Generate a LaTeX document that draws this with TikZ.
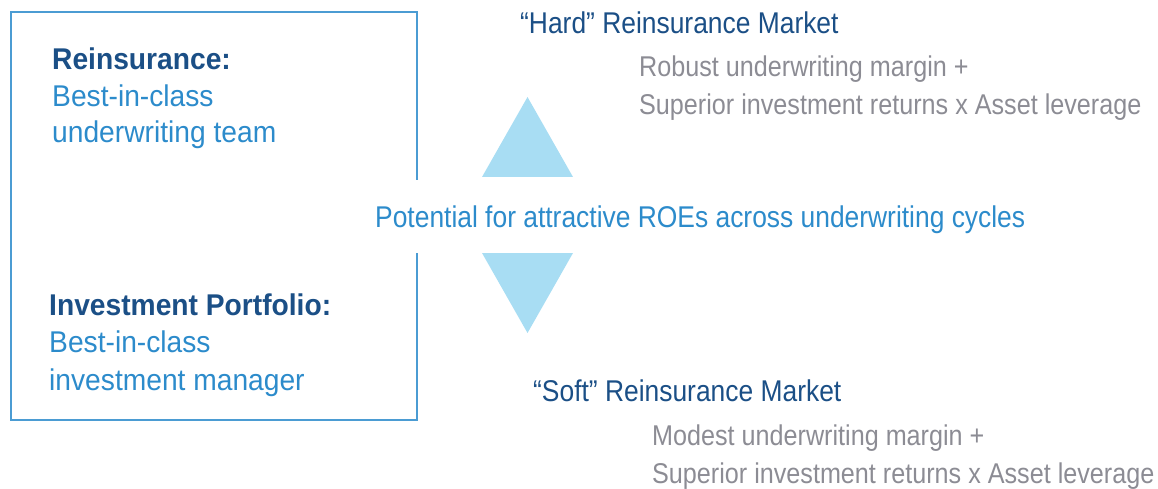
\documentclass[tikz,border=0pt]{standalone}
\usepackage{fontspec}
\setmainfont{Liberation Sans}[FakeStretch=0.88]
\newfontfamily\boxfont{Liberation Sans}[FakeStretch=0.94]
\definecolor{navy}{HTML}{1B4F86}
\definecolor{midblue}{HTML}{2C8BCB}
\definecolor{greytxt}{HTML}{8C8C94}
\definecolor{boxline}{HTML}{4B9CD3}
\definecolor{trifill}{HTML}{A8DDF3}
\tikzset{
  base/.style={anchor=base west, inner sep=0pt, font=\fontsize{30}{36}\selectfont},
  headtxt/.style={base, text=navy, font=\fontsize{30}{36}\selectfont\boxfont\bfseries},
  boxtxt/.style={base, text=midblue, font=\fontsize{30}{36}\selectfont\boxfont},
  bluetxt/.style={base, text=midblue},
  markettxt/.style={base, text=navy},
  greyline/.style={base, text=greytxt, font=\fontsize{28.6}{34}\selectfont},
}
\begin{document}
\begin{tikzpicture}[x=1pt,y=1pt]
\useasboundingbox (0,0) rectangle (1158,-489);
% box with gap on right side
\draw[boxline, line width=2pt] (417,-180) -- (417,-12) -- (11,-12) -- (11,-420) -- (417,-420) -- (417,-253);
% triangles
\fill[trifill] (482,-177) -- (527.5,-97) -- (573,-177) -- cycle;
\fill[trifill] (482,-253) -- (573,-253) -- (527.5,-333) -- cycle;
% left box texts
\node[headtxt] (rh) at (52,-70) {Reinsurance:};
\node[boxtxt] (r1) at (52,-107) {Best-in-class};
\node[boxtxt] (r2) at (52,-143) {underwriting team};
\node[headtxt] (ih) at (49,-315) {Investment Portfolio:};
\node[boxtxt] (i1) at (49,-352) {Best-in-class};
\node[boxtxt] (i2) at (49,-390) {investment manager};
% centre
\node[bluetxt] (pot) at (375,-227) {Potential for attractive ROEs across underwriting cycles};
% hard market
\node[markettxt] (hard) at (520,-34) {“Hard” Reinsurance Market};
\node[greyline] (h1) at (639,-77) {Robust underwriting margin +};
\node[greyline] (h2) at (639,-115) {Superior investment returns x Asset leverage};
% soft market
\node[markettxt] (soft) at (533,-401.5) {“Soft” Reinsurance Market};
\node[greyline] (s1) at (652,-445) {Modest underwriting margin +};
\node[greyline] (s2) at (652,-483) {Superior investment returns x Asset leverage};
\end{tikzpicture}
\end{document}
